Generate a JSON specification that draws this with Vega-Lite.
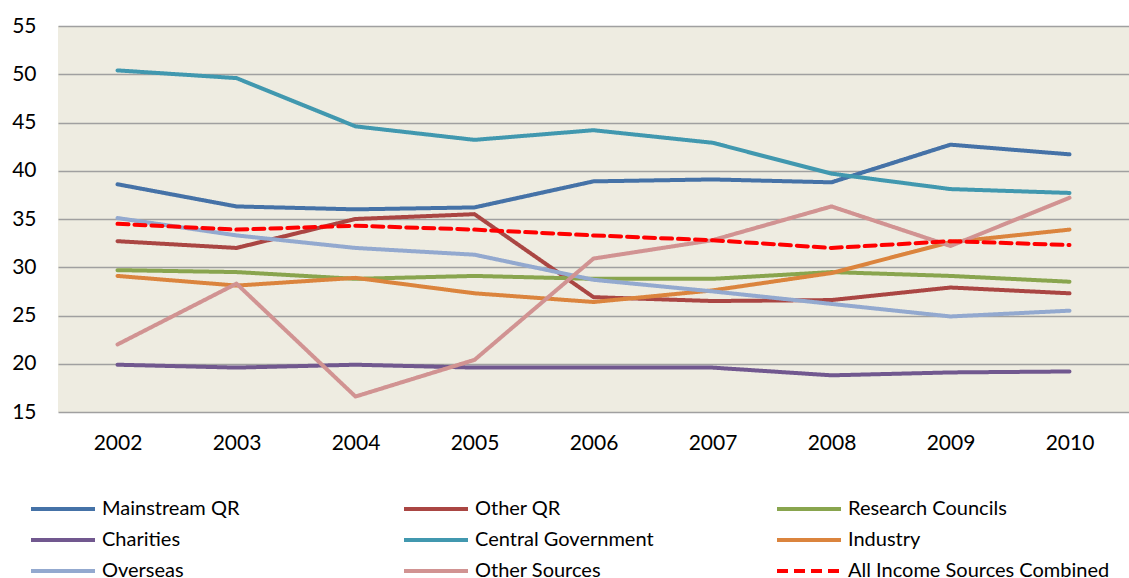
{
  "$schema": "https://vega.github.io/schema/vega-lite/v6.json",
  "width": 1071,
  "height": 386,
  "autosize": {"type": "none"},
  "padding": {"left": 58, "top": 26, "right": 0, "bottom": 166},
  "background": "#FFFFFF",
  "config": {
    "view": {"fill": "#EEECE1", "stroke": null},
    "font": "Lato"
  },
  "data": {
    "values": [
      {"year": "2002", "series": "Mainstream QR", "value": 38.6},
      {"year": "2003", "series": "Mainstream QR", "value": 36.3},
      {"year": "2004", "series": "Mainstream QR", "value": 36.0},
      {"year": "2005", "series": "Mainstream QR", "value": 36.2},
      {"year": "2006", "series": "Mainstream QR", "value": 38.9},
      {"year": "2007", "series": "Mainstream QR", "value": 39.1},
      {"year": "2008", "series": "Mainstream QR", "value": 38.8},
      {"year": "2009", "series": "Mainstream QR", "value": 42.7},
      {"year": "2010", "series": "Mainstream QR", "value": 41.7},
      {"year": "2002", "series": "Other QR", "value": 32.7},
      {"year": "2003", "series": "Other QR", "value": 32.0},
      {"year": "2004", "series": "Other QR", "value": 35.0},
      {"year": "2005", "series": "Other QR", "value": 35.5},
      {"year": "2006", "series": "Other QR", "value": 26.9},
      {"year": "2007", "series": "Other QR", "value": 26.5},
      {"year": "2008", "series": "Other QR", "value": 26.6},
      {"year": "2009", "series": "Other QR", "value": 27.9},
      {"year": "2010", "series": "Other QR", "value": 27.3},
      {"year": "2002", "series": "Research Councils", "value": 29.7},
      {"year": "2003", "series": "Research Councils", "value": 29.5},
      {"year": "2004", "series": "Research Councils", "value": 28.8},
      {"year": "2005", "series": "Research Councils", "value": 29.1},
      {"year": "2006", "series": "Research Councils", "value": 28.8},
      {"year": "2007", "series": "Research Councils", "value": 28.8},
      {"year": "2008", "series": "Research Councils", "value": 29.5},
      {"year": "2009", "series": "Research Councils", "value": 29.1},
      {"year": "2010", "series": "Research Councils", "value": 28.5},
      {"year": "2002", "series": "Charities", "value": 19.9},
      {"year": "2003", "series": "Charities", "value": 19.6},
      {"year": "2004", "series": "Charities", "value": 19.9},
      {"year": "2005", "series": "Charities", "value": 19.6},
      {"year": "2006", "series": "Charities", "value": 19.6},
      {"year": "2007", "series": "Charities", "value": 19.6},
      {"year": "2008", "series": "Charities", "value": 18.8},
      {"year": "2009", "series": "Charities", "value": 19.1},
      {"year": "2010", "series": "Charities", "value": 19.2},
      {"year": "2002", "series": "Central Government", "value": 50.4},
      {"year": "2003", "series": "Central Government", "value": 49.6},
      {"year": "2004", "series": "Central Government", "value": 44.6},
      {"year": "2005", "series": "Central Government", "value": 43.2},
      {"year": "2006", "series": "Central Government", "value": 44.2},
      {"year": "2007", "series": "Central Government", "value": 42.9},
      {"year": "2008", "series": "Central Government", "value": 39.7},
      {"year": "2009", "series": "Central Government", "value": 38.1},
      {"year": "2010", "series": "Central Government", "value": 37.7},
      {"year": "2002", "series": "Industry", "value": 29.1},
      {"year": "2003", "series": "Industry", "value": 28.1},
      {"year": "2004", "series": "Industry", "value": 28.9},
      {"year": "2005", "series": "Industry", "value": 27.3},
      {"year": "2006", "series": "Industry", "value": 26.4},
      {"year": "2007", "series": "Industry", "value": 27.6},
      {"year": "2008", "series": "Industry", "value": 29.4},
      {"year": "2009", "series": "Industry", "value": 32.6},
      {"year": "2010", "series": "Industry", "value": 33.9},
      {"year": "2002", "series": "Overseas", "value": 35.1},
      {"year": "2003", "series": "Overseas", "value": 33.3},
      {"year": "2004", "series": "Overseas", "value": 32.0},
      {"year": "2005", "series": "Overseas", "value": 31.3},
      {"year": "2006", "series": "Overseas", "value": 28.7},
      {"year": "2007", "series": "Overseas", "value": 27.5},
      {"year": "2008", "series": "Overseas", "value": 26.2},
      {"year": "2009", "series": "Overseas", "value": 24.9},
      {"year": "2010", "series": "Overseas", "value": 25.5},
      {"year": "2002", "series": "Other Sources", "value": 22.0},
      {"year": "2003", "series": "Other Sources", "value": 28.3},
      {"year": "2004", "series": "Other Sources", "value": 16.6},
      {"year": "2005", "series": "Other Sources", "value": 20.4},
      {"year": "2006", "series": "Other Sources", "value": 30.9},
      {"year": "2007", "series": "Other Sources", "value": 32.8},
      {"year": "2008", "series": "Other Sources", "value": 36.3},
      {"year": "2009", "series": "Other Sources", "value": 32.2},
      {"year": "2010", "series": "Other Sources", "value": 37.2},
      {"year": "2002", "series": "All Income Sources Combined", "value": 34.5},
      {"year": "2003", "series": "All Income Sources Combined", "value": 33.9},
      {"year": "2004", "series": "All Income Sources Combined", "value": 34.3},
      {"year": "2005", "series": "All Income Sources Combined", "value": 33.9},
      {"year": "2006", "series": "All Income Sources Combined", "value": 33.3},
      {"year": "2007", "series": "All Income Sources Combined", "value": 32.8},
      {"year": "2008", "series": "All Income Sources Combined", "value": 32.0},
      {"year": "2009", "series": "All Income Sources Combined", "value": 32.7},
      {"year": "2010", "series": "All Income Sources Combined", "value": 32.3}
    ]
  },
  "mark": {"type": "line", "strokeWidth": 4, "strokeCap": "round", "strokeJoin": "round"},
  "encoding": {
    "x": {
      "field": "year",
      "type": "ordinal",
      "scale": {"type": "point", "padding": 0.5},
      "axis": {
        "title": null,
        "labelAngle": 0,
        "labelFontSize": 21,
        "labelColor": "#000000",
        "labelPadding": 20,
        "ticks": false,
        "domain": false,
        "grid": false
      }
    },
    "y": {
      "field": "value",
      "type": "quantitative",
      "scale": {"domain": [15, 55], "nice": false, "zero": false},
      "axis": {
        "title": null,
        "values": [15, 20, 25, 30, 35, 40, 45, 50, 55],
        "labelFontSize": 21,
        "labelColor": "#000000",
        "labelPadding": 22,
        "ticks": false,
        "domain": false,
        "grid": true,
        "gridColor": "#A0A0A0",
        "gridWidth": 1.5,
        "gridOpacity": 1
      }
    },
    "color": {
      "field": "series",
      "type": "nominal",
      "scale": {
        "domain": ["Mainstream QR", "Other QR", "Research Councils", "Charities", "Central Government", "Industry", "Overseas", "Other Sources", "All Income Sources Combined"],
        "range": ["#4572A7", "#AA4643", "#89A54E", "#71588F", "#4198AF", "#DB843D", "#93A9CF", "#D19392", "#FF0000"]
      },
      "legend": {
        "title": null,
        "orient": "none",
        "direction": "horizontal",
        "legendX": -5,
        "legendY": 473,
        "padding": 0,
        "columns": 3,
        "gridAlign": "all",
        "columnPadding": 32,
        "rowPadding": 11,
        "symbolType": "M-4,0H4",
        "symbolSize": 256,
        "symbolOffset": 0,
        "symbolStrokeWidth": 4,
        "labelFontSize": 20,
        "labelColor": "#000000",
        "labelOffset": 29,
        "labelLimit": 400
      }
    },
    "strokeDash": {
      "field": "series",
      "type": "nominal",
      "scale": {
        "domain": ["Mainstream QR", "Other QR", "Research Councils", "Charities", "Central Government", "Industry", "Overseas", "Other Sources", "All Income Sources Combined"],
        "range": [[1, 0], [1, 0], [1, 0], [1, 0], [1, 0], [1, 0], [1, 0], [1, 0], [11, 6]]
      },
      "legend": {
        "title": null,
        "orient": "none",
        "direction": "horizontal",
        "legendX": -5,
        "legendY": 473,
        "padding": 0,
        "columns": 3,
        "gridAlign": "all",
        "columnPadding": 32,
        "rowPadding": 11,
        "symbolType": "M-4,0H4",
        "symbolSize": 256,
        "symbolOffset": 0,
        "symbolStrokeWidth": 4,
        "labelFontSize": 20,
        "labelColor": "#000000",
        "labelOffset": 29,
        "labelLimit": 400
      }
    }
  }
}
